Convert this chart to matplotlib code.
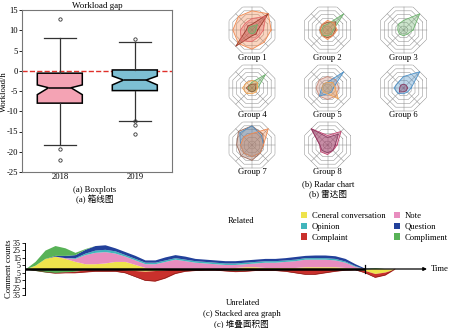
import numpy as np
import matplotlib
matplotlib.use('Agg')
import matplotlib.pyplot as plt

plt.rcParams['font.family'] = ['Liberation Serif', 'Noto Sans CJK SC']
plt.rcParams['axes.unicode_minus'] = False

# ---------------- data ----------------
# (a) boxplots
box_years = ['2018', '2019']
box_q1 = [-8.0, -4.9]
box_med = [-4.2, -2.3]
box_q3 = [-0.6, 0.2]
box_whislo = [-18.4, -12.4]
box_whishi = [8.2, 7.1]
box_cilo = [-5.9, -3.5]
box_cihi = [-3.5, -1.3]
box_fliers = [[12.7, -19.3, -22.1], [7.9, -12.3, -13.4, -15.5]]
box_yticks = [15, 10, 5, 0, -5, -10, -15, -20, -25]

# (b) radar charts: 8 axes (E, NE, N, NW, W, SW, S, SE), values 0..6
radar_groups = ['Group 1', 'Group 2', 'Group 3', 'Group 4',
                'Group 5', 'Group 6', 'Group 7', 'Group 8']
radar_g1 = [('#F2894F', [5, 6, 5, 5, 5, 5, 5, 4.5]),
            ('#9C3B2A', [1.5, 6, 1.5, 1.5, 1.5, 6, 1.5, 1.5]),
            ('#E46A6A', [3, 5, 3, 2.5, 3, 4, 3, 2.5]),
            ('#6DB36D', [1, 2, 1, 1, 1, 1, 1, 1])]
radar_g2 = [('#9C5A3A', [2, 3, 2, 2, 2, 2, 2, 2]),
            ('#6DB36D', [1.5, 6, 1.5, 1.5, 1.5, 2, 1.5, 1.5]),
            ('#F2894F', [2.5, 2.5, 2.5, 2, 2, 2, 2.5, 2])]
radar_g3 = [('#6DB36D', [2.5, 6, 2.5, 2, 1.5, 1.5, 1.5, 1.5])]
radar_g4 = [('#6DB36D', [1.5, 5, 1.5, 1, 1, 1, 1, 1]),
            ('#F2A24F', [1.5, 2, 2, 2, 2.5, 2, 1.5, 1.5]),
            ('#9C5A3A', [1, 1.5, 1, 1, 1.5, 1, 1, 1])]
radar_g5 = [('#C98A7A', [3, 3, 3, 3, 3, 3, 3, 3]),
            ('#4A90C8', [1.5, 6, 1.5, 1.5, 1.5, 3, 1.5, 1.5]),
            ('#F2A24F', [2, 2, 1.5, 1.5, 1.5, 1.5, 1.5, 4])]
radar_g6 = [('#4A90C8', [2, 6, 3, 2, 2.5, 2, 1.5, 1.5]),
            ('#8B3A62', [1, 1, 1, 1, 1, 1.5, 1, 1])]
radar_g7 = [('#9C6A5A', [3, 4, 5, 5, 4, 4, 4, 3]),
            ('#4A90C8', [3, 3.5, 5, 4.5, 3, 3, 3, 3]),
            ('#F2894F', [3, 6, 3, 3, 3, 3, 3, 3])]
radar_g8 = [('#C2416E', [2.5, 5, 2.5, 6, 2, 2.5, 2.5, 2]),
            ('#8B3A62', [2, 4, 2, 6, 2, 2, 2, 2])]
radar_series = [radar_g1, radar_g2, radar_g3, radar_g4,
                radar_g5, radar_g6, radar_g7, radar_g8]

# (c) stacked area graph (comment counts over time)
stream_t = np.arange(38)
general_up = [0, 5, 14, 17, 14, 10, 7, 7, 8, 10, 10, 6, 2, 1, 1, 1, 1, 1, 1, 1,
              1, 2, 3, 3, 2, 2, 2, 2, 3, 3, 3, 3, 2, 1, 0, 1, 0.5, 0]
note_up = [0, 0, 0, 0, 1, 4, 12, 15, 15, 11, 7, 6, 5, 6, 9, 12, 10, 8, 7, 6,
           5, 4, 4, 5, 7, 7, 8, 9, 10, 10, 10, 9, 7, 2.5, 0, 0, 0, 0]
opinion_up = [0, 0, 0, 0, 0, 1, 2, 3, 3, 3, 2, 2, 2, 2, 2, 2, 2, 2, 2, 2,
              2, 2, 2, 2, 2, 2, 2, 2, 2, 2, 2, 2, 1.5, 1, 0, 0, 0, 0]
question_up = [0, 0, 0, 1, 3, 4, 5, 6, 6, 4, 4, 4, 3, 3, 4, 4, 4, 3, 3, 3,
               3, 3, 3, 3, 3, 3, 3, 3.5, 3, 3.5, 3.5, 3.5, 3.5, 2.5, 1, 0, 0, 0]
compliment_up = [0, 5, 11, 13, 10, 3, 1, 0, 0, 0, 0, 0, 0, 0, 0, 0, 0, 0, 0, 0,
                 0, 0, 0, 0, 0, 0, 0, 0, 0, 0, 0, 0, 0, 0, 0, 1, 0, 0]
general_dn = [0, 0, 0, 0, 0, 0, 0, 0, 0, 0, 1, 2, 3, 2, 1, 0, 0, 0, 0, 0,
              0, 1, 1, 0, 0, 0, 0, 0, 0, 0, 0, 0, 0, 0, 2, 6, 4, 0]
compliment_dn = [0, 2, 4, 5, 4, 3, 1, 0, 0, 0, 0, 0, 0, 0, 0, 0, 0, 0, 0, 0,
                 1, 1, 0.5, 0, 0, 0, 0, 0, 0, 0, 0, 0, 0, 0, 0, 0, 0, 0]
complaint_dn = [0, 0, 0, 0.5, 1, 2, 3, 3, 3, 3, 4, 8, 12, 14, 11, 6, 3, 2, 1.5, 1.5,
                1.5, 1.5, 1.5, 2, 2, 2, 3, 5, 7, 7, 5, 3, 1.5, 1, 3, 5, 4, 0]
stream_ticks = [35, 25, 15, 5, -5, -15, -25, -35]
stream_labels = ['Ceneral conversation', 'Opinion', 'Complaint',
                 'Note', 'Question', 'Compliment']
c_yellow, c_pink, c_cyan = '#EEE34C', '#E88DBF', '#41B5BC'
c_blue, c_green, c_red = '#22409A', '#58B257', '#C9302C'

# ---------------- figure ----------------
W, H = 450.0, 328.0
fig = plt.figure(figsize=(4.5, 3.28), dpi=100)


def rect(x0, y0, x1, y1):
    return [x0 / W, 1 - y1 / H, (x1 - x0) / W, (y1 - y0) / H]


FS = 6.2

# ---- (a) boxplots ----
axb = fig.add_axes(rect(22.3, 10, 172.3, 172))
stats = []
for i in range(2):
    stats.append(dict(med=box_med[i], q1=box_q1[i], q3=box_q3[i],
                      whislo=box_whislo[i], whishi=box_whishi[i],
                      fliers=box_fliers[i], cilo=box_cilo[i], cihi=box_cihi[i],
                      label=box_years[i]))
bp = axb.bxp(stats, positions=[1, 2], widths=0.6, shownotches=True,
             patch_artist=True, capwidths=0.42,
             boxprops=dict(linewidth=1.1, edgecolor='black'),
             medianprops=dict(color='black', linewidth=1.1),
             whiskerprops=dict(color='#333333', linewidth=0.9),
             capprops=dict(color='#333333', linewidth=0.9),
             flierprops=dict(marker='o', markersize=2.4, markerfacecolor='none',
                             markeredgecolor='#333333', markeredgewidth=0.6))
for patch, col in zip(bp['boxes'], ['#F4A3B4', '#7DBFD3']):
    patch.set_facecolor(col)
axb.axhline(0, color='#E0302A', linestyle='--', linewidth=1.0, zorder=0.5)
axb.set_xlim(0.5, 2.5)
axb.set_ylim(-25, 15)
axb.set_yticks(box_yticks)
axb.tick_params(labelsize=FS, length=2, width=0.6, pad=1.2)
axb.tick_params(axis='x', length=0, pad=1)
for s in axb.spines.values():
    s.set_color('#777777')
    s.set_linewidth(0.8)
axb.set_title('Workload gap', fontsize=FS + 0.3, pad=1.5)
fig.text(4 / W, 1 - 92 / H, 'Workload/h', rotation=90, ha='center', va='center',
         fontsize=FS)
fig.text(95 / W, 1 - 189.5 / H, '(a) Boxplots', ha='center', va='center', fontsize=FS)
fig.text(95 / W, 1 - 199.5 / H, '(a) 箱线图', ha='center', va='center', fontsize=FS)

# ---- (b) radar charts ----
flat_r = 23.0            # px, flat-to-centre of outer ring
ppu = flat_r / 6.0       # px per unit
rlim = 6.6
half = rlim * ppu
cols_x = [252.0, 327.5, 403.5]
rows_y = [30.0, 88.0, 145.0]
label_y = [58.5, 115.5, 172.5]
axes_ang = np.deg2rad(np.arange(8) * 45.0)
ring_ang = np.deg2rad(22.5 + np.arange(9) * 45.0)
for gi, (gname, series) in enumerate(zip(radar_groups, radar_series)):
    r_i, c_i = divmod(gi, 3)
    cx, cy = cols_x[c_i], rows_y[r_i]
    axr = fig.add_axes(rect(cx - half, cy - half, cx + half, cy + half), projection='polar')
    axr.set_ylim(0, rlim)
    axr.grid(False)
    axr.set_xticks([])
    axr.set_yticks([])
    axr.spines['polar'].set_visible(False)
    axr.patch.set_alpha(0)
    for ring in range(1, 7):
        axr.plot(ring_ang, [ring / np.cos(np.deg2rad(22.5))] * 9,
                 color='#8a8a8a', linewidth=0.35, zorder=1)
    for a in axes_ang:
        axr.plot([a, a], [0, 6], color='#8a8a8a', linewidth=0.35, zorder=1)
    for col, vals in series:
        th = np.append(axes_ang, axes_ang[0])
        rv = np.append(vals, vals[0])
        axr.fill(th, rv, color=col, alpha=0.35, linewidth=0, zorder=2)
        axr.plot(th, rv, color=col, linewidth=0.6, zorder=3)
    fig.text(cx / W, 1 - label_y[r_i] / H, gname, ha='center', va='center', fontsize=FS)
fig.text(328 / W, 1 - 184 / H, '(b) Radar chart', ha='center', va='center', fontsize=FS)
fig.text(328 / W, 1 - 194 / H, '(b) 雷达图', ha='center', va='center', fontsize=FS)

# ---- (c) stacked area graph ----
axs = fig.add_axes(rect(25, 236, 450, 302))
axs.set_xlim(0, 42.5)
axs.set_ylim(-43.6, 43.6)
t = stream_t
y1 = np.array(general_up, float)
y2 = y1 + np.array(note_up)
y3 = y2 + np.array(opinion_up)
y4 = y3 + np.array(question_up)
y5 = y4 + np.array(compliment_up)
d1 = -np.array(general_dn, float)
d2 = d1 - np.array(compliment_dn)
d3 = d2 - np.array(complaint_dn)
p_gen = axs.fill_between(t, 0, y1, color=c_yellow, lw=0, label=stream_labels[0])
p_note = axs.fill_between(t, y1, y2, color=c_pink, lw=0, label=stream_labels[3])
p_op = axs.fill_between(t, y2, y3, color=c_cyan, lw=0, label=stream_labels[1])
p_q = axs.fill_between(t, y3, y4, color=c_blue, lw=0, label=stream_labels[4])
p_comp = axs.fill_between(t, y4, y5, color=c_green, lw=0, label=stream_labels[5])
axs.fill_between(t, d1, 0, color=c_yellow, lw=0)
axs.fill_between(t, d2, d1, color=c_green, lw=0)
p_cpl = axs.fill_between(t, d3, d2, color=c_red, lw=0, label=stream_labels[2])
axs.plot(t, d3, color='#7a1a16', lw=0.4)
axs.plot([t[0], t[34]], [0, 0], color='black', lw=1.8, solid_capstyle='butt')
axs.annotate('', xy=(40.2, 0), xytext=(t[34], 0),
             arrowprops=dict(arrowstyle='-|>', color='black', lw=0.9,
                             mutation_scale=5, shrinkA=0, shrinkB=0))
axs.plot([t[34], t[34]], [-5.5, 5.5], color='black', lw=0.9)
axs.text(40.6, 0, 'Time', ha='left', va='center', fontsize=FS)
for side in ['top', 'right', 'bottom']:
    axs.spines[side].set_visible(False)
axs.spines['left'].set_bounds(-35, 35)
axs.spines['left'].set_linewidth(0.7)
axs.set_xticks([])
axs.set_yticks(stream_ticks)
axs.set_yticklabels([str(abs(v)) for v in stream_ticks])
axs.tick_params(axis='y', labelsize=FS - 0.4, length=2, width=0.6, pad=1)
axs.patch.set_alpha(0)
fig.text(9 / W, 1 - 269 / H, 'Comment counts', rotation=90, ha='center', va='center',
         fontsize=FS)
axs.legend(handles=[p_gen, p_op, p_cpl, p_note, p_q, p_comp], ncol=2,
           loc='upper left', bbox_to_anchor=(301 / W, 1 - 212 / H),
           bbox_transform=fig.transFigure, frameon=False, fontsize=FS,
           handlelength=0.75, handleheight=0.75, handletextpad=0.5,
           columnspacing=1.0, labelspacing=0.3, borderpad=0, borderaxespad=0)
fig.text(227.5 / W, 1 - 221 / H, 'Related', ha='left', va='center', fontsize=FS)
fig.text(243 / W, 1 - 303 / H, 'Unrelated', ha='center', va='center', fontsize=FS)
fig.text(241.5 / W, 1 - 314.5 / H, '(c) Stacked area graph', ha='center', va='center',
         fontsize=FS)
fig.text(241.5 / W, 1 - 324.5 / H, '(c) 堆叠面积图', ha='center', va='center', fontsize=FS)

fig.savefig('out.png', dpi=100)
